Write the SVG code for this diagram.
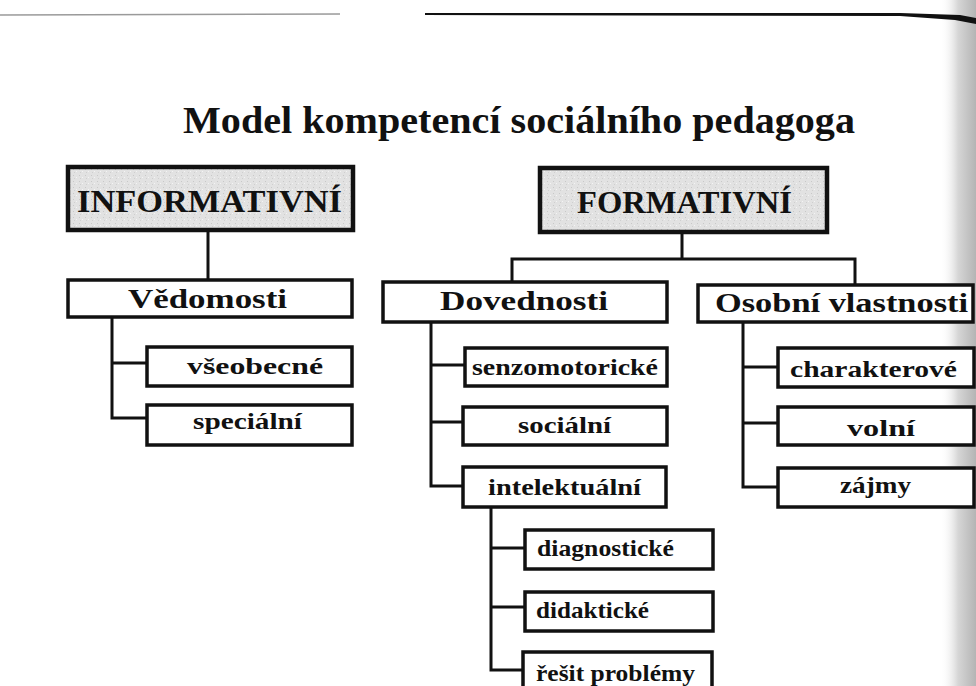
<svg xmlns="http://www.w3.org/2000/svg" width="976" height="686" viewBox="0 0 976 686">
<defs>
<linearGradient id="edge" x1="0" y1="0" x2="1" y2="0">
<stop offset="0" stop-color="#ffffff" stop-opacity="0"/>
<stop offset="0.5" stop-color="#d6d6d6"/>
<stop offset="1" stop-color="#b4b4b4"/>
</linearGradient>
<pattern id="grain" width="6" height="6" patternUnits="userSpaceOnUse">
<rect width="6" height="6" fill="#e2e2e2"/>
<rect x="1" y="1" width="1" height="1" fill="#c8c8c8"/>
<rect x="4" y="3" width="1" height="1" fill="#f4f4f4"/>
<rect x="2" y="4" width="1" height="1" fill="#cfcfcf"/>
</pattern>
</defs>
<style>
.hdr{fill:url(#grain);stroke:#111;stroke-width:4.5}
.box{fill:#fff;stroke:#111;stroke-width:3.5}
.t{font-family:"Liberation Serif","Times New Roman",serif;font-weight:bold;fill:#111}
.th{font-size:31px}
.t2{font-size:28px}
.t3{font-size:23px}
.title{font-size:37px}
.ln{fill:none;stroke:#111;stroke-width:3;stroke-linejoin:miter}
</style>
<rect width="976" height="686" fill="#fff"/>
<rect x="940" y="0" width="36" height="686" fill="url(#edge)"/>
<path d="M0,15 L340,14" stroke="#9a9a9a" stroke-width="1.5" fill="none"/>
<path d="M425,13 L900,13 L960,15 L976,18 L976,24 L955,20 L900,16 L425,15 Z" fill="#111"/>

<text class="t title" x="183" y="133" textLength="672" lengthAdjust="spacingAndGlyphs">Model kompetencí sociálního pedagoga</text>

<g id="connectors">
<path class="ln" d="M208,230 V280"/>
<path class="ln" d="M682,232 V259 M512,282 V259 H855 V285"/>
<path class="ln" d="M112,317 V418 H147 M112,363 H147"/>
<path class="ln" d="M431,322 V486 H463 M431,365 H465 M431,422 H463"/>
<path class="ln" d="M491,507 V670 H523 M491,548 H525 M491,607 H525"/>
<path class="ln" d="M743,322 V487 H778 M743,367 H778 M743,423 H778"/>
</g>

<g id="informativni">
<rect class="hdr" x="68" y="167" width="285" height="63"/>
<text class="t th" x="77" y="212" textLength="265" lengthAdjust="spacingAndGlyphs">INFORMATIVNÍ</text>
</g>
<g id="formativni">
<rect class="hdr" x="540" y="168" width="287" height="64"/>
<text class="t th" x="577" y="213" textLength="215" lengthAdjust="spacingAndGlyphs">FORMATIVNÍ</text>
</g>

<g id="vedomosti">
<rect class="box" x="68" y="280" width="284" height="37"/>
<text class="t t2" x="128" y="308" textLength="159" lengthAdjust="spacingAndGlyphs">Vědomosti</text>
</g>
<g id="dovednosti">
<rect class="box" x="383" y="282" width="284" height="40"/>
<text class="t t2" x="440" y="310" textLength="168" lengthAdjust="spacingAndGlyphs">Dovednosti</text>
</g>
<g id="osobni">
<rect class="box" x="698" y="285" width="275" height="37"/>
<text class="t t2" x="715" y="312" textLength="253" lengthAdjust="spacingAndGlyphs">Osobní vlastnosti</text>
</g>

<g id="vseobecne">
<rect class="box" x="147" y="347" width="205" height="39"/>
<text class="t t3" x="187" y="374" textLength="136" lengthAdjust="spacingAndGlyphs">všeobecné</text>
</g>
<g id="specialni">
<rect class="box" x="147" y="405" width="205" height="40"/>
<text class="t t3" x="193" y="429" textLength="109" lengthAdjust="spacingAndGlyphs">speciální</text>
</g>

<g id="senzomotoricke">
<rect class="box" x="465" y="348" width="202" height="38"/>
<text class="t t3" x="472" y="375" textLength="186" lengthAdjust="spacingAndGlyphs">senzomotorické</text>
</g>
<g id="socialni">
<rect class="box" x="463" y="407" width="204" height="38"/>
<text class="t t3" x="518" y="433" textLength="93" lengthAdjust="spacingAndGlyphs">sociální</text>
</g>
<g id="intelektualni">
<rect class="box" x="463" y="467" width="203" height="40"/>
<text class="t t3" x="488" y="495" textLength="153" lengthAdjust="spacingAndGlyphs">intelektuální</text>
</g>

<g id="diagnosticke">
<rect class="box" x="525" y="530" width="188" height="39"/>
<text class="t t3" x="537" y="556" textLength="137" lengthAdjust="spacingAndGlyphs">diagnostické</text>
</g>
<g id="didakticke">
<rect class="box" x="525" y="592" width="188" height="39"/>
<text class="t t3" x="536" y="618" textLength="113" lengthAdjust="spacingAndGlyphs">didaktické</text>
</g>
<g id="resit">
<rect class="box" x="523" y="652" width="189" height="40"/>
<text class="t t3" x="536" y="681" textLength="159" lengthAdjust="spacingAndGlyphs">řešit problémy</text>
</g>

<g id="charakterove">
<rect class="box" x="778" y="348" width="196" height="39"/>
<text class="t t3" x="790" y="377" textLength="167" lengthAdjust="spacingAndGlyphs">charakterové</text>
</g>
<g id="volni">
<rect class="box" x="778" y="407" width="196" height="38"/>
<text class="t t3" x="847" y="436" textLength="68" lengthAdjust="spacingAndGlyphs">volní</text>
</g>
<g id="zajmy">
<rect class="box" x="778" y="468" width="196" height="39"/>
<text class="t t3" x="840" y="493" textLength="71" lengthAdjust="spacingAndGlyphs">zájmy</text>
</g>
</svg>
